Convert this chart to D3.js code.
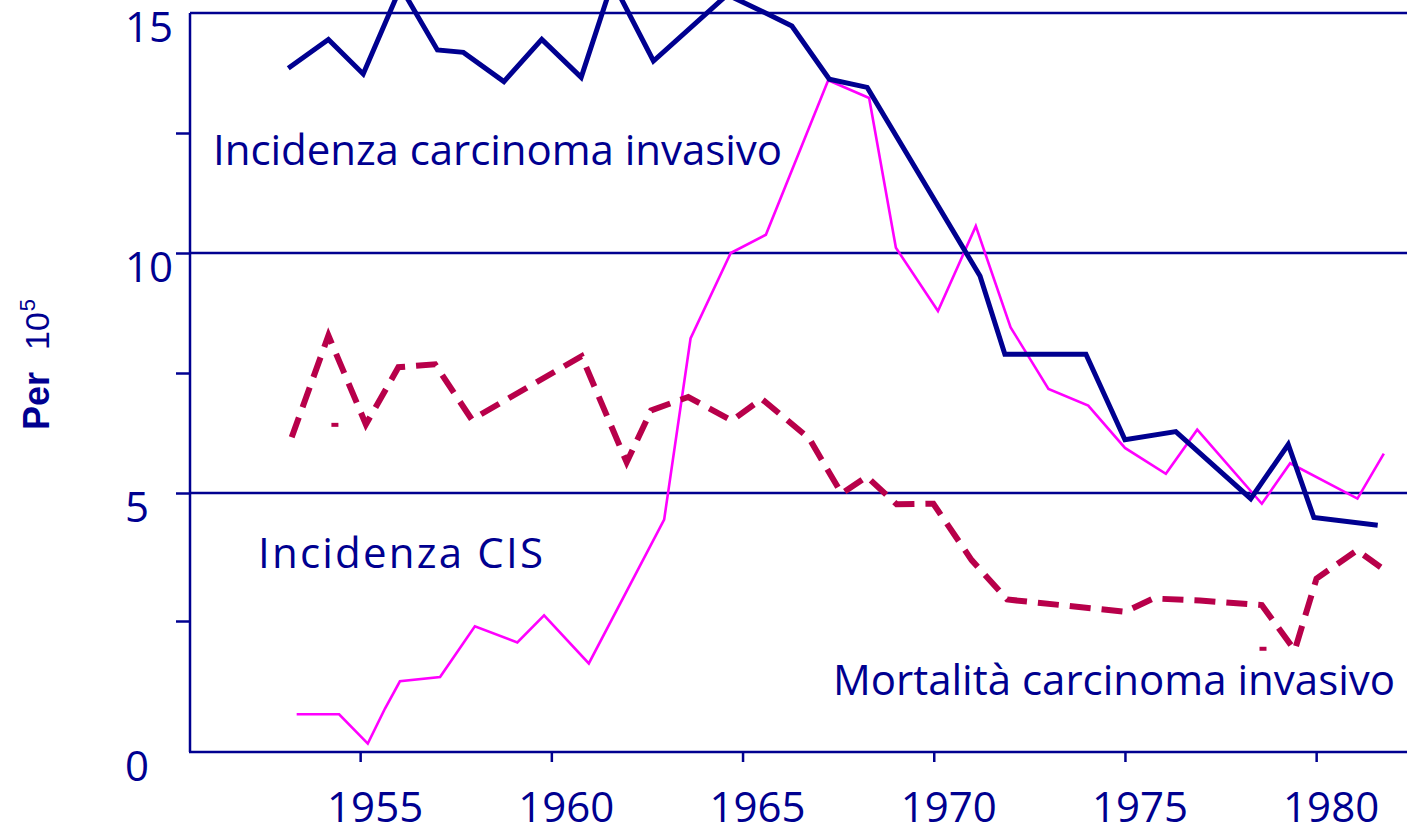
<!DOCTYPE html>
<html>
<head>
<meta charset="utf-8">
<script src="https://cdn.jsdelivr.net/npm/d3@7"></script>
<style>
  html, body { margin: 0; padding: 0; background: #ffffff; overflow: hidden; }
  svg { display: block; }
  .lbl { font-family: "Comic Sans MS", "Open Sans", sans-serif; fill: #000090; }
</style>
</head>
<body>
<svg id="chart" width="1407" height="829"></svg>
<script>
// Incidence of invasive cervical carcinoma (per 100 000)
const invasiveYears = [1953.12, 1954.17, 1955.08, 1956.06, 1957.02, 1957.70, 1958.76, 1959.75, 1960.78, 1961.60,
                       1962.67, 1964.60, 1965.63, 1966.29, 1967.27, 1968.26, 1971.21, 1971.86, 1973.98, 1975.00,
                       1976.33, 1978.29, 1979.27, 1979.94, 1981.61];
const invasiveRate  = [13.85, 14.45, 13.73, 15.54, 14.23, 14.18, 13.57, 14.45, 13.66, 15.65,
                       14.00, 15.38, 14.99, 14.73, 13.62, 13.45, 9.52, 7.89, 7.89, 6.11,
                       6.28, 4.89, 6.01, 4.52, 4.37];

// Incidence of carcinoma in situ (CIS)
const cisYears = [1953.34, 1954.45, 1955.20, 1955.65, 1956.04, 1957.09, 1958.00, 1959.11, 1959.81, 1960.98,
                  1962.95, 1963.64, 1964.69, 1965.61, 1967.24, 1968.31, 1969.01, 1970.11, 1971.10, 1972.01,
                  1973.00, 1974.04, 1975.00, 1976.07, 1976.89, 1978.58, 1979.32, 1981.08, 1981.77];
const cisRate  = [0.72, 0.72, 0.16, 0.83, 1.35, 1.43, 2.40, 2.09, 2.61, 1.69,
                  4.48, 8.22, 10.00, 10.38, 13.60, 13.23, 10.11, 8.79, 10.56, 8.45,
                  7.17, 6.82, 5.94, 5.40, 6.32, 4.79, 5.62, 4.89, 5.82];

// Mortality from invasive carcinoma
const mortalityYears = [1953.21, 1954.17, 1955.15, 1956.00, 1956.96, 1957.92, 1960.79, 1961.97, 1962.61, 1963.58,
                        1964.72, 1965.50, 1966.74, 1967.59, 1968.25, 1969.03, 1969.99, 1970.99, 1971.92, 1975.00,
                        1975.74, 1976.96, 1978.58, 1979.44, 1980.01, 1981.07, 1981.80];
const mortalityRate  = [6.16, 8.28, 6.43, 7.62, 7.68, 6.53, 7.85, 5.64, 6.72, 7.00,
                        6.51, 6.96, 6.14, 4.99, 5.34, 4.78, 4.79, 3.69, 2.92, 2.68,
                        2.94, 2.90, 2.81, 1.94, 3.33, 3.88, 3.49];
// isolated mortality readings shown as short marks
const mortalityMarkYears = [1954.34, 1978.61];
const mortalityMarkRate  = [6.42, 1.97];

// Axis ticks
const yearTicks   = [1955, 1960, 1965, 1970, 1975, 1980];
const rateLabels  = [0, 5, 10, 15];
const rateTicks   = [2.5, 5, 7.5, 10, 12.5];
const gridRates   = [5, 10, 15];

const AXIS = "#000090";
const svg = d3.select("#chart");

const x = d3.scaleLinear().domain([1955, 1980]).range([360.15, 1316.15]);
const y = d3.scaleLinear().domain([0, 2.5, 5, 10, 15]).range([752, 621, 493, 253, 13]);

const plotLeft = 190, plotRight = 1420;

// horizontal grid lines
svg.append("g").selectAll("line").data(gridRates).join("line")
  .attr("x1", plotLeft).attr("x2", plotRight)
  .attr("y1", d => y(d)).attr("y2", d => y(d))
  .attr("stroke", AXIS).attr("stroke-width", 2.5);

// left axis
const yAxis = svg.append("g").attr("transform", `translate(${plotLeft},0)`)
  .call(d3.axisLeft(y).tickValues(rateTicks).tickSize(14).tickSizeOuter(0).tickFormat(""));
yAxis.select(".domain").remove();
yAxis.selectAll(".tick line").attr("stroke", AXIS).attr("stroke-width", 2.5);
svg.append("line").attr("x1", plotLeft).attr("x2", plotLeft)
  .attr("y1", y(15)).attr("y2", y(0))
  .attr("stroke", AXIS).attr("stroke-width", 2.5);

svg.append("g").selectAll("text").data(rateLabels).join("text")
  .attr("class", "lbl")
  .attr("x", 125)
  .attr("y", d => y(d) + 29)
  .attr("font-size", 42)
  .text(d => d);

// bottom axis
const xAxis = svg.append("g").attr("transform", `translate(0,${y(0)})`)
  .call(d3.axisBottom(x).tickValues(yearTicks).tickSize(10).tickSizeOuter(0).tickFormat(""));
xAxis.select(".domain").remove();
xAxis.selectAll(".tick line").attr("stroke", AXIS).attr("stroke-width", 2.5);
svg.append("line").attr("x1", plotLeft - 1).attr("x2", plotRight)
  .attr("y1", y(0)).attr("y2", y(0))
  .attr("stroke", AXIS).attr("stroke-width", 2.5);

svg.append("g").selectAll("text").data(yearTicks).join("text")
  .attr("class", "lbl")
  .attr("x", d => x(d) + 15)
  .attr("y", 822)
  .attr("text-anchor", "middle")
  .attr("font-size", 42)
  .text(d => d);

// y axis title: "Per 10^5", read bottom to top
const yTitle = svg.append("text")
  .attr("transform", "translate(49,430) rotate(-90)")
  .attr("text-anchor", "start")
  .attr("font-family", "Tahoma, 'Liberation Sans', Arial, sans-serif")
  .attr("fill", AXIS);
yTitle.append("tspan").style("font-weight", "bold").style("font-size", "36px").text("Per");
yTitle.append("tspan").style("font-size", "34px").attr("dx", 22).text("10");
yTitle.append("tspan").style("font-size", "22px").attr("dx", 1).attr("dy", -14).text("5");

// series
const line = d3.line().x(d => x(d[0])).y(d => y(d[1]));

svg.append("path")
  .datum(d3.zip(cisYears, cisRate))
  .attr("d", line)
  .attr("fill", "none").attr("stroke", "#ff00ff").attr("stroke-width", 2.6)
  .attr("stroke-linejoin", "miter");

svg.append("path")
  .datum(d3.zip(mortalityYears, mortalityRate))
  .attr("d", line)
  .attr("fill", "none").attr("stroke", "#b8004a").attr("stroke-width", 6)
  .attr("stroke-dasharray", "21,11")
  .attr("stroke-linecap", "butt").attr("stroke-linejoin", "miter");

svg.append("g").selectAll("line").data(d3.zip(mortalityMarkYears, mortalityMarkRate)).join("line")
  .attr("x1", d => x(d[0]) - 3.5).attr("x2", d => x(d[0]) + 3.5)
  .attr("y1", d => y(d[1])).attr("y2", d => y(d[1]))
  .attr("stroke", "#b8004a").attr("stroke-width", 4);

svg.append("path")
  .datum(d3.zip(invasiveYears, invasiveRate))
  .attr("d", line)
  .attr("fill", "none").attr("stroke", "#000090").attr("stroke-width", 5)
  .attr("stroke-linejoin", "miter");

// series labels
const labels = [
  { text: "Incidenza carcinoma invasivo", x: 213, y: 165, width: 569 },
  { text: "Incidenza CIS", x: 258, y: 568, width: 285 },
  { text: "Mortalità carcinoma invasivo", x: 833, y: 695, width: 562 }
];
svg.append("g").selectAll("text").data(labels).join("text")
  .attr("class", "lbl")
  .attr("x", d => d.x).attr("y", d => d.y)
  .attr("font-size", 42)
  .attr("textLength", d => d.width)
  .attr("lengthAdjust", "spacing")
  .text(d => d.text);
</script>
</body>
</html>
